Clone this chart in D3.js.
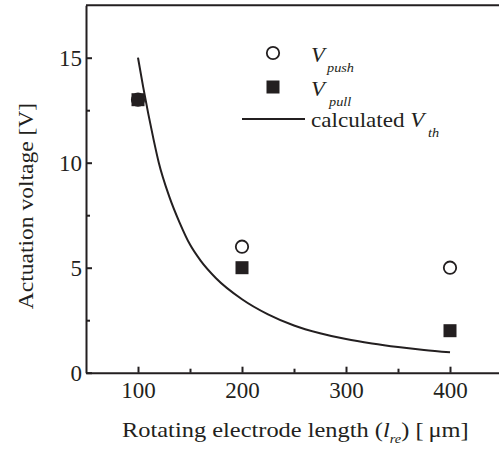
<!DOCTYPE html>
<html>
<head>
<meta charset="utf-8">
<script src="https://cdn.jsdelivr.net/npm/d3@7"></script>
<style>
  html, body { margin: 0; padding: 0; background: #fff; }
  svg { display: block; }
  svg text { font-family: "Liberation Serif", "Times New Roman", Times, "DejaVu Serif", serif !important; fill: #231f20; }
</style>
</head>
<body>
<svg id="chart" width="499" height="450"></svg>
<script>
// ---- data ----
const lengths = [100, 200, 400];
const vPush = [13, 6, 5];
const vPull = [13, 5, 2];
const curveL = [100, 105, 110, 115, 120, 130, 140, 150, 160, 175, 200, 225, 250, 275, 300, 325, 350, 375, 400];
const curveV = [15.0, 13.6, 12.3, 11.1, 10.0, 8.4, 7.15, 6.1, 5.35, 4.5, 3.5, 2.78, 2.25, 1.88, 1.6, 1.39, 1.22, 1.08, 0.97];
const xMajorTicks = [100, 200, 300, 400];
const xMinorTicks = [150, 250, 350];
const yMajorTicks = [0, 5, 10, 15];
const yMinorTicks = [2.5, 7.5, 12.5];

const ink = "#231f20";
const serif = '"Liberation Serif", "Times New Roman", Times, serif';
const svg = d3.select("#chart");
const x = d3.scaleLinear().domain([50, 450]).range([86, 502]);
const y = d3.scaleLinear().domain([0, 17.5]).range([372.7, 5.2]);

// frame top / right
svg.append("line").attr("x1", x(50)).attr("x2", x(450)).attr("y1", y(17.5)).attr("y2", y(17.5))
  .attr("stroke", ink).attr("stroke-width", 2);
svg.append("line").attr("x1", x(450)).attr("x2", x(450)).attr("y1", y(0)).attr("y2", y(17.5))
  .attr("stroke", ink).attr("stroke-width", 2);

function styleAxis(g) {
  g.attr("font-family", serif).attr("font-size", 23);
  g.selectAll("path.domain").attr("stroke", ink).attr("stroke-width", 2);
  g.selectAll(".tick line").attr("stroke", ink).attr("stroke-width", 2);
  g.selectAll(".tick text").attr("fill", ink).attr("font-family", serif).attr("font-size", 23);
}

const gx = svg.append("g").attr("transform", `translate(0,${y(0)})`)
  .call(d3.axisBottom(x).tickValues(xMajorTicks).tickSizeInner(-6).tickSizeOuter(0).tickPadding(9).tickFormat(d3.format("d")));
styleAxis(gx);
const gxm = svg.append("g").attr("transform", `translate(0,${y(0)})`)
  .call(d3.axisBottom(x).tickValues(xMinorTicks).tickSizeInner(-4).tickSizeOuter(0).tickFormat(""));
styleAxis(gxm);
gxm.select("path.domain").remove();

const gy = svg.append("g").attr("transform", `translate(${x(50)},0)`)
  .call(d3.axisLeft(y).tickValues(yMajorTicks).tickSizeInner(-6).tickSizeOuter(0).tickPadding(4).tickFormat(d3.format("d")));
styleAxis(gy);
const gym = svg.append("g").attr("transform", `translate(${x(50)},0)`)
  .call(d3.axisLeft(y).tickValues(yMinorTicks).tickSizeInner(-4).tickSizeOuter(0).tickFormat(""));
styleAxis(gym);
gym.select("path.domain").remove();

// curve
const line = d3.line().x((d, i) => x(curveL[i])).y(d => y(d)).curve(d3.curveMonotoneX);
svg.append("path").datum(curveV).attr("d", line)
  .attr("fill", "none").attr("stroke", ink).attr("stroke-width", 2);

// markers
svg.selectAll("circle.push").data(vPush).enter().append("circle")
  .attr("class", "push").attr("cx", (d, i) => x(lengths[i])).attr("cy", d => y(d)).attr("r", 6.2)
  .attr("fill", "#fff").attr("stroke", ink).attr("stroke-width", 1.8);
svg.selectAll("rect.pull").data(vPull).enter().append("rect")
  .attr("class", "pull").attr("x", (d, i) => x(lengths[i]) - 6.5).attr("y", d => y(d) - 6.5)
  .attr("width", 13).attr("height", 13).attr("fill", ink);

// text helper with slight horizontal stretch (reference typeface is wider)
function txt(px, py, size, sx, italic) {
  return svg.append("text").attr("transform", `translate(${px},${py}) scale(${sx},1)`)
    .attr("font-family", serif).attr("font-size", size).attr("font-style", italic ? "italic" : "normal");
}

// legend
svg.append("circle").attr("cx", 273).attr("cy", 53).attr("r", 6.2)
  .attr("fill", "#fff").attr("stroke", ink).attr("stroke-width", 1.8);
txt(311, 62, 21, 1.08, true).text("V");
txt(327, 72, 13, 1.1, true).text("push");

svg.append("rect").attr("x", 266.5).attr("y", 80.5).attr("width", 13).attr("height", 13).attr("fill", ink);
txt(311, 96, 21, 1.08, true).text("V");
txt(329, 106, 13, 1.1, true).text("pull");

svg.append("line").attr("x1", 242).attr("x2", 305).attr("y1", 119).attr("y2", 119)
  .attr("stroke", ink).attr("stroke-width", 2);
const calc = txt(311, 127, 21, 1.1, false);
calc.append("tspan").text("calculated ");
calc.append("tspan").attr("font-style", "italic").text("V");
txt(428, 137, 13, 1.1, true).text("th");

// axis titles
const xt = txt(122, 437, 22, 1.11, false);
xt.append("tspan").text("Rotating electrode length (");
xt.append("tspan").attr("font-style", "italic").text("l");
xt.append("tspan").attr("font-style", "italic").attr("font-size", 13).attr("dy", 6).text("re");
xt.append("tspan").attr("dy", -6).text(") [\u2009μm]");

svg.append("text").attr("transform", "translate(33,206) rotate(-90) scale(1.07,1)").attr("text-anchor", "middle")
  .attr("font-family", serif).attr("font-size", 22).text("Actuation voltage [V]");
</script>
</body>
</html>
